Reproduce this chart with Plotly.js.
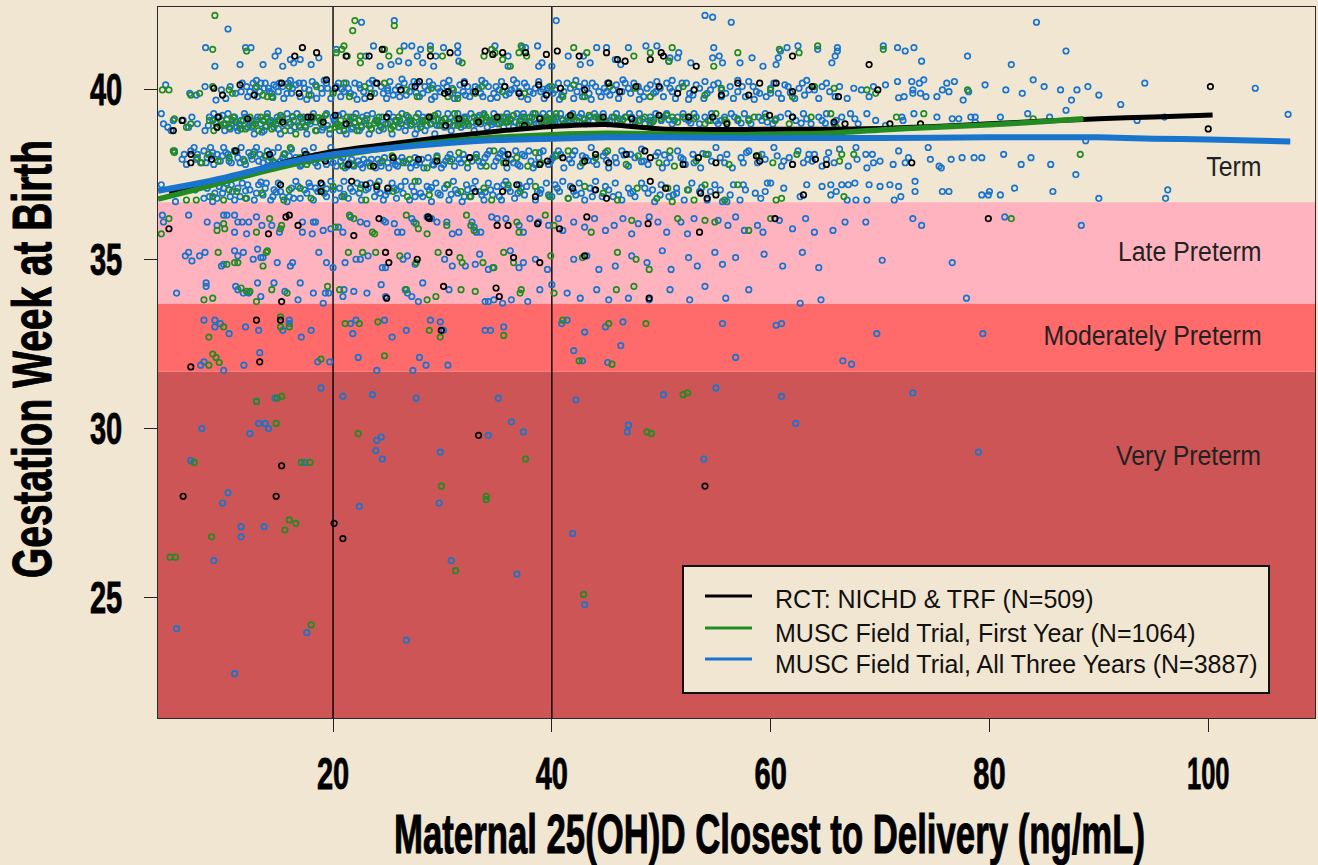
<!DOCTYPE html>
<html><head><meta charset="utf-8"><script src="https://cdn.plot.ly/plotly-3.0.1.min.js"></script>
<style>html,body{margin:0;padding:0;background:#F1E6D2}</style></head><body><div id="chart" style="width:1318px;height:865px"></div>
<script>
const seriesNames=["RCT: NICHD & TRF (N=509)","MUSC Field Trial, First Year (N=1064)","MUSC Field Trial, All Three Years (N=3887)"];
const blackCurveX=[5,8,12,16,20,25,30,35,40,45,50,55,60,65,70,75,80,85,90,95,100.4];
const blackCurveY=[37,37.2,37.55,37.9,38.18,38.4,38.6,38.78,38.92,38.98,38.85,38.83,38.84,38.84,38.86,38.92,39,39.08,39.15,39.2,39.26];
const greenCurveX=[4,7,10,15,20,25,30,35,40,45,50,55,60,65,70,75,80,85,88.6];
const greenCurveY=[36.78,37.02,37.28,37.7,38.04,38.28,38.47,38.6,38.68,38.72,38.7,38.68,38.68,38.72,38.82,38.9,38.97,39.07,39.15];
const blueCurveX=[4,7,10,15,20,25,30,35,40,45,50,60,70,80,90,95,100,107.5];
const blueCurveY=[37.02,37.2,37.4,37.8,38.1,38.28,38.42,38.52,38.56,38.6,38.6,38.58,38.58,38.6,38.6,38.56,38.54,38.48];
const bandBreaks=[21.45,31.68,33.69,36.68];
const bandLabels=["Very Preterm","Moderately Preterm","Late Preterm","Term"];
const bandLabelY=[29.2,32.72,35.22,37.72];
const xTicks=[20,40,60,80,100];
const yTicks=[25,30,35,40];
const refLines=[20,40];
const bluePoints=[
9.2,40.7,10.4,41.8,8.35,41.25,11.5,40.75,12,41.25,12.5,41.25,13.6,40.75,15,41.15,14.7,41,15.4,40.7,16.1,40.9,16.4,40.8,17,40.9,18,40.75,18.7,40.95,20.3,41.2,22.6,42,25.6,42.05,23.7,41.3,23,41,24.3,40.7,25.3,40.75,26,40.85,26.5,41.3,27.2,41.3,28,41.2,27.7,41,26.9,40.8,28.2,40.8,28.9,41.3,30.1,41.25,29.2,40.7,29.4,41,31.4,41.3,31.4,41.1,31.5,40.85,34.8,41.3,36,41,36,40.7,37.3,41.25,37.6,41.25,38.7,41.3,39.1,40.8,38.8,40.7,40.4,42.05,40,40.7,41.5,41,42.9,41,43.5,40.8,42.6,40.75,44.1,41.25,45,41.25,45.8,40.9,46.3,40.75,47,41.25,48.6,41.3,49.6,41.3,50.8,40.95,51.6,41.1,51.5,40.95,50.7,40.85,52.7,40.8,54.8,41.25,55.3,41,54.7,40.95,55.6,40.8,54,42.2,54.7,42.15,56.4,42,57.2,40.8,58.3,40.95,59.3,40.7,60.5,40.75,60.7,40.95,60.9,41.15,61.5,41.25,62.5,41.3,64.3,41.2,66.1,41.25,66.1,41.15,65.9,41,65.6,40.8,70.3,41.3,71.6,41.25,72.3,41.15,73.1,41.25,73.8,40.85,84.3,42,87,41.15,82,40.75,78,41,
4.7,40.15,6.9,39.9,7.5,39.85,8.3,40.1,9.3,39.7,9.8,40,10.2,39.75,10.6,40.1,11.1,39.9,11.7,40.2,12.2,39.8,12.7,40.2,13.1,39.8,13.4,40.2,13.8,40.2,14.1,40.05,14.4,39.9,14.8,40.1,15.1,40.2,15.5,39.75,15.9,40.2,16.2,39.9,16.6,40.15,17,39.8,17.3,40.2,17.8,40,18.1,40.25,18.5,39.75,18.9,40.05,19.4,40.2,19.8,39.75,20.3,40.1,20.7,39.8,21.2,40.2,21.6,39.9,22,40.2,22.5,40.05,22.9,39.75,23.3,40.2,23.8,39.9,24.4,40.1,24.9,39.75,25.2,40.25,25.7,40,26.1,39.8,26.5,40.2,27,39.95,27.4,40.25,27.9,39.8,28.4,40.1,28.8,40.25,29.3,39.8,29.6,40.05,30.1,40.2,30.7,39.9,31.1,39.75,31.6,40.15,32,40.25,32.5,39.8,33,40.1,33.5,39.9,33.9,40.2,34.4,39.75,34.9,40.1,35.4,40.25,35.8,39.85,36.3,40,36.8,40.2,37.2,39.8,37.7,40.1,38.3,39.9,38.8,40.25,39.3,39.75,39.8,40.1,40.3,40,40.9,39.85,41.4,40.2,42,39.75,42.5,40.1,43,40.2,43.4,39.9,44,40.1,44.5,39.8,45.1,40.2,45.6,40,46.1,39.75,46.7,40.2,47.2,39.9,47.9,40.1,48.4,39.8,49,40.15,49.6,40.25,50.2,39.8,50.8,40.05,51.3,39.75,51.9,40.2,52.6,39.9,53.2,40.15,53.9,39.75,54.5,40,55.2,40.2,55.9,39.9,56.6,39.75,57.4,40.1,58,40.25,58.7,39.95,59.6,39.8,60.3,40.2,61,39.75,61.6,40.1,62.2,39.75,62.9,40.2,63.5,40,64.4,39.75,65.1,40.2,65.9,39.8,66.3,40.1,67,39.75,67.6,40.05,68.3,40,69,39.8,69.4,40.1,70.5,40.15,71.6,40.25,71.7,39.77,72.2,39.8,72.9,40.25,73.6,40.2,74,40.3,73,40,73,39.9,73.7,39.9,74.2,39.8,75.2,39.8,75.7,40,76.1,40.2,76.8,40.25,76.3,39.95,77.6,39.7,78.1,39.95,79.6,40.15,81.5,40,83,39.9,84,40.3,85,40.1,86.5,40,88,40,89,40.1,90,39.85,87.5,39.7,94.2,40.2,104.3,40.05,
4.3,39.3,4.5,39,4.9,38.9,5.2,38.8,5.4,39.1,6.3,39.1,6.8,38.9,7.1,39.2,7.6,39,8.3,38.8,8.7,39.2,9.1,39.3,9.4,38.9,9.8,39.1,10.1,38.8,10.4,39.3,10.7,39,11,39.2,11.3,38.8,11.6,39.1,11.9,39.3,12.2,38.9,12.5,39.1,12.8,38.7,13.1,39.2,13.4,39,13.7,38.8,14,39.3,14.3,39.1,14.6,38.9,14.9,39.2,15.2,38.7,15.5,39,15.8,39.3,16.1,38.8,16.4,39.1,16.7,39.3,17,38.9,17.3,39.2,17.6,38.7,17.9,39,18.2,39.3,18.5,38.8,18.8,39.1,19.1,38.9,19.4,39.3,19.7,38.7,20,39.2,20.3,39,20.6,38.8,20.9,39.3,21.2,38.7,21.5,39.1,21.8,38.9,22.1,39.3,22.4,38.8,22.7,39.2,23,39,23.3,38.7,23.6,39.3,23.9,39.1,24.2,38.8,24.5,39.2,24.8,39,25.1,39.3,25.4,38.7,25.7,39.1,26,38.9,26.3,39.3,26.6,38.8,26.9,39.2,27.2,39,27.5,38.7,27.8,39.3,28.1,39.1,28.4,38.8,28.7,39.2,29,39,29.3,38.7,29.6,39.3,29.9,39.1,30.2,38.9,30.5,39.3,30.8,38.8,31.1,39.1,31.4,39.3,31.7,38.9,32,39.2,32.3,39,32.6,39.3,32.9,38.8,33.2,39.2,33.5,39,33.8,39.3,34.1,38.9,34.4,39.1,34.7,39.3,35,39,35.3,39.2,35.6,38.9,35.9,39.3,36.2,39.1,36.5,38.9,36.8,39.3,37.1,39.1,37.4,39.3,37.7,39,38,39.2,38.3,39.3,38.6,39,38.9,39.2,39.2,39.3,39.5,39.1,39.8,39.3,40.1,39,40.4,39.2,40.8,39.3,41.1,39,41.5,39.2,41.9,39.3,42.3,39.1,42.7,39.3,43.1,39,43.5,39.2,43.9,39.3,44.3,39.1,44.7,39.3,45.1,39,45.5,39.2,45.9,39.3,46.3,39,46.7,39.2,47.1,39.3,47.6,39.1,48,39.3,48.5,39,49,39.2,49.5,39.3,50,39.1,50.5,39.3,51,39,51.5,39.2,52,39.3,52.5,39.1,53,39.3,53.5,39,54,39.2,54.6,39.3,55.2,39,55.8,39.2,56.4,39.3,57,39.1,57.6,39.3,58.2,39,58.9,39.2,59.5,39.3,60.2,39,60.9,39.2,61.6,39.3,62.3,39.1,63,39.3,63.7,39,64.4,39.2,65.1,39.3,65.8,39,66.5,39.2,67.3,39.3,68,39,68.8,39.3,69.6,39.1,70.5,38.95,72,39.2,72.1,39.1,73.1,39.3,75.2,39.2,76.6,39.15,77.2,39.15,78.3,39.2,78.7,39.2,78.7,39.05,81,39.2,83.5,39.3,85.5,39.2,87,39.4,92,39.57,93.5,39.1,96,39.2,107.3,39.28,
5.5,38.2,6.2,37.95,6.6,37.8,7.3,38.3,7.6,38.1,7.9,37.85,8.2,38.2,8.5,38,8.8,38.3,9.1,37.8,9.4,38.1,9.7,37.9,10,38.3,10.4,38.1,10.7,37.85,11,38.2,11.3,38,11.6,38.3,12,37.8,12.3,38.15,12.6,37.95,13,38.3,13.3,38.1,13.6,37.85,14,38.2,14.3,38,14.7,37.85,15,38.3,15.4,38,15.8,37.8,16.2,38.25,16.6,38,17,37.75,17.4,38.2,17.8,37.9,18.2,38.3,18.6,37.75,19,38,19.4,37.8,19.8,38.3,20.3,37.75,20.7,37.9,21.1,37.7,21.5,37.85,21.9,37.75,22.3,37.9,22.7,37.7,23.1,37.85,23.5,37.95,23.9,37.7,24.3,37.85,24.7,38,25.1,37.7,25.5,37.9,25.9,37.75,26.3,38,26.7,37.85,27.1,37.7,27.5,38,27.9,37.85,28.3,37.7,28.7,38,29.1,37.8,29.5,38.05,29.9,37.7,30.3,37.9,30.7,38.1,31.1,37.75,31.5,37.95,31.9,38.1,32.3,37.7,32.7,37.9,33.1,38.1,33.5,37.75,33.9,38,34.3,38.2,34.7,37.75,35.1,38,35.5,38.2,35.9,37.7,36.3,37.95,36.7,38.2,37.1,37.75,37.5,38.05,37.9,38.2,38.3,37.7,38.8,38,39.2,38.2,39.7,37.8,40.1,38,40.6,38.2,41.1,37.7,41.6,37.95,42.1,38.2,42.6,37.75,43.1,38,43.6,38.3,44.1,37.8,44.7,38.05,45.2,37.7,45.8,38,46.4,38.2,47,37.75,47.6,38,48.2,38.25,48.8,37.8,49.5,38.05,50.1,37.7,50.8,38,51.5,38.2,52.2,37.8,52.9,38.1,53.6,37.7,54.3,38.1,55,38.3,55.8,37.85,56.5,37.7,57.3,38,58,38.2,58.8,37.85,59.5,37.95,60.3,38.3,61,37.75,61.7,38,62.5,38.2,63,37.85,63.4,37.95,64,38.1,64.7,37.75,65.3,38.15,65.8,37.85,66.3,38.25,67.1,37.75,67.8,38.3,67.9,37.95,68.7,38.1,68.8,37.7,69.3,38.1,69.4,37.85,70,37.9,71.2,37.8,71.7,38.2,72.3,37.85,72.6,38,74.4,38.3,74.6,37.95,75.4,37.75,75.6,37.7,76.5,37.95,77.5,38,78.6,38,79.3,38,81.3,38.1,82.9,37.8,83.8,38,85.6,37.8,87.9,37.5,88.8,38.5,
4.3,37.2,5.6,36.7,7.4,37.05,8.2,36.8,8.7,36.85,9,36.7,9.6,37.15,9.9,36.95,10.3,37.25,10.6,36.85,11,36.75,11.3,37.1,11.7,37.25,12.1,36.8,12.4,37.05,12.8,36.75,13.2,37.2,13.6,36.9,13.9,37.25,14.3,36.75,14.6,37.05,15,37.25,15.4,36.85,15.8,36.7,16.2,37.1,16.6,37.3,17,36.8,17.4,37.05,17.8,37.25,18.2,36.75,18.6,37,19,37.2,19.4,36.85,19.8,37.3,20.2,36.75,20.6,37.1,21,37.3,21.4,36.8,21.8,37,22.2,37.25,22.6,36.75,23,37.05,23.4,37.25,23.8,36.85,24.2,37.3,24.6,36.75,25,37,25.4,37.25,25.8,36.8,26.2,37.15,26.6,37.3,27,36.75,27.4,37,27.8,37.3,28.2,36.85,28.6,37.15,29,36.7,29.4,37.25,29.8,36.9,30.2,37.1,30.6,36.75,31,37.3,31.4,36.95,31.8,36.7,32.2,37.2,32.6,36.85,33,37.3,33.4,37,33.8,36.75,34.2,37.25,34.6,36.9,35,37.15,35.4,36.75,35.8,37.3,36.2,37,36.6,36.8,37,37.2,37.5,36.9,38,37.3,38.5,36.75,39,37.05,39.5,37.25,40,36.85,40.5,37.1,41,37.3,41.5,36.8,42,37,42.5,37.25,43,36.75,43.5,37.1,44,37.3,44.6,36.85,45.2,37.05,45.8,37.25,46.4,36.75,47,37.1,47.6,36.85,48.2,37.25,48.8,36.95,49.4,36.7,50,37.2,50.7,36.85,51.4,37.1,52.1,36.75,52.8,37.25,53.5,37,54.2,36.75,54.9,37.2,55.6,36.7,56,36.7,56.6,37.2,57.2,36.75,57.5,37.2,57.7,37.05,58.6,36.95,59.1,36.8,59.5,37,59.7,37.25,60,37.25,61.2,37.1,62.7,36.85,63.3,37.2,64.7,37.15,65.5,37.2,65.5,36.9,66,37,66.5,37.2,67,36.75,67.1,37.2,67.7,37.25,67.8,36.75,68.8,36.75,69,37.2,70,37.15,70.9,37.2,71.3,36.75,71.7,37.15,71.9,36.85,73.2,37.3,73.2,37,75.7,37,76.3,37,79.3,36.9,80,37,79.9,36.9,81,36.9,82.3,37.1,85.8,37,90,36.8,96.3,37.05,96.1,36.8,
4.4,36.3,4.5,36.1,6.8,36.3,8.5,36.1,9.4,36,10,36.3,10.3,36.3,11,36.3,11.3,36.1,11.7,36.1,12.1,35.75,12.3,36.1,11,35.8,13,36.25,13.5,36,14.4,36,15.1,35.8,17.2,36.1,17.2,35.8,18.2,36.1,18.4,36.1,18.1,35.75,19.1,35.85,19.8,35.9,20.5,35.95,20.9,35.8,21.6,36.25,22.5,36.1,23.1,36.05,24.6,36.15,24.8,36.1,25.6,36.05,25.9,35.8,26.3,35.8,27.2,36.2,27.4,36.1,28.6,36.25,29,36.2,29.5,36.1,30.4,36.1,30.9,35.75,31.5,35.8,32.7,36.1,32.9,35.95,33.1,35.8,33.5,35.8,34.5,36.25,35,36.2,35.8,36.2,37,36,37.4,35.8,38,36.2,38.8,36.1,39.7,36,40.6,36.2,41,35.85,42,36.1,43,35.95,43.9,36.2,44.9,35.85,45.7,36,46.5,36.2,47.3,35.75,47.9,36.05,48.9,36.25,49.7,36.1,50.5,35.8,51.8,36.1,52.4,35.75,53,36.2,55.2,36.15,56.1,36,56.8,36.25,57.6,35.85,58.8,36,59.3,35.8,60.8,36.15,62,35.9,63.2,36.2,64,35.8,65.7,35.85,66.8,36.1,68.7,36.1,73,36.2,73.8,36,81.4,36.25,88.4,36,
6.5,35.1,6.8,35.2,7.1,34.95,7.8,35.1,8.3,35.2,10,34.85,9.8,34.8,11,35.25,11.3,35.1,11.8,35.2,12.7,35,13.1,35.3,13.4,35.05,13.6,35.05,14.9,34.9,16.1,34.8,16.3,34.9,18.7,35.2,19.4,34.9,20,34.75,21.1,34.9,22.1,35,22.5,35,23.2,35.1,24.5,34.75,24.8,34.75,26.4,35,26.8,35.1,27.5,34.85,30.2,35,30.9,34.8,32.1,34.8,33,34.85,33.4,35.15,34.2,34.7,34.6,34.75,36.2,35.25,37,34.75,37.4,34.9,38.5,35,39.6,34.7,42,35,43.2,35.1,44.3,34.7,45.8,34.8,47.3,35.1,48.7,34.9,50.1,35.25,50.9,34.7,52.5,35.05,53.3,34.8,54.9,35.2,55.6,34.85,56.8,35.05,59.4,35.15,61.1,34.8,62.9,35.2,64.4,34.75,70.2,34.97,76.6,34.9,
5.7,34,8.4,34.3,8.4,34.2,11.1,34.2,11.3,34.1,11.8,34,12.3,34,13.1,34.3,13.4,33.9,14.6,34.3,15.6,34.05,16.8,33.8,17,34.3,18.2,34,19.3,34,19.1,33.7,19.6,34,21,34.1,20.9,33.9,21.9,34.05,23.1,34,24.4,34.25,24.8,33.9,26.6,34.1,26.8,34,27.2,33.9,27.8,33.75,28.2,34.3,30.6,34.1,33.9,33.75,34.2,33.75,34.7,33.8,35.5,33.7,36.3,33.8,37.8,33.75,38.9,34.1,40,34.25,41.4,34,42.6,33.85,44.1,34.1,45.2,33.8,47,33.85,48.9,33.8,50.8,34.1,52.6,33.8,54,34.2,55.9,33.85,58,34.1,62.7,33.7,64.6,33.8,77.9,33.85,
8.2,33.2,9.2,33.2,9.7,33.1,9.2,33,10.5,32.8,12,33,13.2,32.9,15.4,32.9,16,33.2,16,33.1,17.1,32.7,18,32.9,21.6,33.1,22.1,33.2,21.8,32.8,24.7,33.2,25.4,32.7,26.7,32.9,28.9,33.2,29.8,33.15,30.1,32.9,33.9,32.9,34.4,32.9,35.6,33,40.9,33.1,41.4,33.2,42,32.3,42.8,32,43,32.85,44.9,33,46.5,33.15,46.3,32.45,45.1,31.95,55.6,33.1,56.8,32.1,60.5,33.05,61,33.1,66.6,32,67.4,31.9,69.7,32.8,79.4,32.8,
8.2,31.97,7.9,31.87,10,31.72,13.3,32.24,11.85,31.87,18.6,31.97,19.7,31.97,22.3,32.1,27.9,32.1,28.5,31.87,30.5,31.87,24,31.72,27.3,31.72,
5.7,24.09,7,29.05,8,30,9.1,26.1,9.9,27.8,10.4,28.1,11,22.76,11.6,27.1,11.6,26.8,12.4,29.85,13,30.8,13.7,27.1,13.2,30.15,13.8,30.15,14.1,30,14.7,30.9,17.4,29,17.6,23.97,18.9,31.2,20.9,30.95,22.4,27.7,23.6,31,24.4,29.75,24,29.65,23.9,29.35,24.5,29.1,26.7,23.75,27.6,30.9,29.8,29.3,29.7,27.8,30.8,26.1,34.2,29.8,35.1,30.9,36.3,30.2,37.4,29.9,36.8,25.7,41.9,26.9,42.2,30.85,43,24.8,47,30.1,46.9,29.9,53.9,29.1,55,31.2,61,30.95,62.3,30.15,73,31.05,79,29.3,50.2,31
];
const blueBandPoints=[
12.1,40.1,12.4,39.95,12.9,40.05,13.3,39.95,13.7,40.05,14.2,39.95,14.6,40.15,15,39.95,15.4,40.1,15.8,39.9,16.3,40.05,16.9,40.2,17.4,40.05,18,39.85,18.4,40.15,19,39.9,19.5,40.05,20,39.9,20.5,40.2,21,39.95,21.4,40.05,21.9,39.85,22.4,40.15,22.8,39.95,23.4,40.05,23.9,40.2,24.6,39.9,25,40.05,25.5,39.85,26,40.1,26.7,39.85,27.2,40.1,27.7,40.2,28.2,39.9,28.7,40,29.1,40.15,29.8,39.95,30.4,40.1,30.9,40.05,31.4,39.85,31.9,39.95,32.3,40.1,32.8,39.95,33.3,40.05,33.7,39.8,34.2,40.1,34.7,39.9,35.2,40,35.7,40.1,36.1,39.9,36.6,40.05,37,39.95,37.5,40.2,38,39.95,38.5,40.05,39,39.95,39.6,40.05,40.1,39.9,40.6,40.2,41.1,39.95,41.7,40.05,42.3,39.95,42.8,39.8,43.2,40.05,43.7,40.2,44.3,39.95,44.8,40.05,45.3,39.85,45.9,40.15,46.4,39.95,47,40.05,47.5,40.2,48.1,39.95,48.7,40.05,49.3,39.9,49.9,40.05,50.5,40.2,51,39.95,51.6,40.05,52.3,40.2,52.9,39.85,53.5,40.05,54.2,39.9,54.8,40.15,55.5,39.8,56.3,40.1,57,39.95,57.7,39.8,58.4,40.1,59,39.9,60,40.05,60.7,39.9,61.3,40.15,62.6,40.05,63.1,39.85,64,40,64.7,40.1,65.4,39.95,
9,39.1,9.6,39.2,10.2,39,10.6,38.85,11.1,39.05,11.5,38.95,12,39.2,12.6,38.9,13,39.1,13.5,38.75,13.9,39.2,14.5,39.05,15,38.85,15.4,39.2,16,39.05,16.5,38.9,17.1,39.15,17.5,38.95,18,39.2,18.4,39.05,19,39.15,19.5,38.95,20.1,39.1,20.5,39.25,21.1,38.95,21.6,39.2,22,39.05,22.6,38.9,23.1,39.25,23.5,38.85,24.1,39.05,24.6,38.85,25.2,39.05,25.6,38.95,26.1,39.1,26.7,38.95,27.1,39.1,27.7,38.85,28.2,39.2,28.6,38.95,29.2,39.1,29.7,38.95,30.3,39.15,31,38.95,31.6,39.1,32.2,39.2,32.8,39.05,33.4,39.25,34,39.1,34.6,39.05,35.4,39.05,36,39.2,36.7,39.05,37.3,39.2,37.9,39.05,38.4,39.15,39.1,39.05,39.7,39.15,40.3,39.05,40.9,39.15,41.7,39.05,42.5,39.2,43.3,39.1,44.2,39.2,45.3,39.1,46.2,39.15,47.3,39.2,48.3,39.15,49.2,39.05,50.2,39.2,51.2,39.1,52.2,39.15,53.2,39.2,54.3,39.1,55.5,39.1,56.7,39.2,58,39.15,59.2,39.1,60.5,39.15,62,39.2,63.3,39.15,64.7,39.1,66,39.1,67.7,39.15,
6.4,38.1,7,38.2,8.4,37.85,9,38.15,9.9,38.05,10.5,37.9,11.2,38.15,11.8,37.95,12.5,38.05,13.2,37.9,13.9,38.05,14.5,38.15,15.2,37.9,16,38.05,16.8,37.9,17.6,38.1,18.4,37.85,19.2,37.95,20,37.85,20.9,38,21.7,37.95,22.5,37.8,23.3,37.85,24.1,37.95,25,37.85,25.7,37.8,26.5,37.9,27.3,37.85,28.1,37.95,29.3,37.9,30.1,37.8,30.9,37.95,31.7,37.85,32.5,38,33.3,37.9,34.1,38.1,34.9,37.9,35.7,38.05,36.5,37.85,37.3,38.1,38.1,37.9,38.9,38.15,39.9,37.9,40.8,38.1,41.8,37.85,42.8,38.05,43.8,37.9,44.9,38.15,45.9,37.85,47.2,38.1,48.4,37.9,49.7,38.15,50.5,37.85,51.8,38,53,37.85,54.6,37.9,56,38.1,57.5,37.85,59.2,38.1,61.2,37.9,63.5,38.1,65.1,37.95,
8.5,37.1,9.2,36.95,10,37.1,10.8,37,11.5,36.85,12.2,37.2,13,36.95,13.8,37.1,14.5,36.85,15.2,37,16,36.85,16.8,37.15,17.6,36.95,18.4,37.1,19.2,36.95,20,37.05,20.8,36.85,21.6,37.1,22.4,36.95,23.2,37.1,24,37.05,24.8,36.9,25.6,37.1,26.4,36.95,27.2,37.15,28,36.95,28.8,37.05,29.6,36.95,30.4,37.2,31.2,37.05,32,36.85,32.8,37.1,33.6,36.9,34.4,37.05,35.2,36.85,36,37.1,36.9,36.95,37.7,37.15,38.7,37,39.7,36.9,40.7,37,41.7,37.15,42.7,36.95,43.7,36.85,44.9,37.15,46.1,36.9,47.4,37,48.5,37.1,49.9,36.9,51.1,36.9,52.5,37.05,54.5,37,56.3,36.9
];
const blueCrowdPoints=[
11.6,39.95,13,40.28,14.5,39.78,16.1,40.28,17.6,39.72,19.2,40.28,20.8,40.02,22.2,39.72,23.6,40.28,25,39.98,26.3,40.32,27.6,39.92,29,39.72,30.6,40.28,32.1,39.85,33.6,40.28,35,39.78,36.5,40.3,37.8,39.72,39.2,40.02,40.7,39.72,42.2,40.28,43.6,39.72,45,39.95,46.5,40.3,48,39.72,49.5,39.95,51,40.28,52.5,39.72,54,40.25,55.5,40,57,40.28,58.5,39.72,60,39.9,61.8,39.92,63.3,40.28,
8.6,38.95,9.9,39.25,11.2,38.9,12.4,39.02,13.8,38.92,15.1,39.12,16.3,39.22,17.7,39.05,19,38.82,20.2,39.12,21.7,38.85,22.9,39.1,24.3,38.95,25.5,39.2,26.8,39.05,28,39,29.5,38.95,30.6,39.05,32,38.95,33.1,39,34.5,38.98,35.7,39.05,37.3,38.98,38.8,39.02,40.2,39.12,41.6,39.12,43,39.12,44.4,39.02,46,39.08,47.4,39.02,49,39.1,50.7,39.12,52.7,39.02,55,39.08,57.3,39.02,59.7,39.05,62.8,39.02,65,39.02,
7.5,37.95,8.9,38.05,10.2,38.15,11.5,37.85,12.8,38.18,14.1,37.92,15.6,38.12,17.1,37.8,18.4,38.05,19.7,37.95,21.3,37.75,22.8,37.95,24.4,37.75,26,37.9,27.6,37.78,29.2,37.78,30.5,38,32,37.95,33.7,37.85,35.3,38.12,36.9,37.8,38.5,37.8,40.3,38.08,41.9,38.08,43.3,37.92,45,37.92,46.6,38.08,48.2,37.88,50.3,38.08,52,37.95,53.8,38.12,55.4,38,57.8,38.15,60.6,38.05,63.8,37.9,
9.4,36.8,10.7,37.2,12,37.02,13.4,37.28,14.8,36.98,16.4,36.8,17.9,37.15,19.4,37.08,21,36.92,22.6,37.2,24.3,36.95,25.8,37.05,27.5,36.85,29,37.12,30.8,36.92,32.3,37.05,33.9,36.98,35.6,37.2,37.2,37.1,38.9,36.95,40.3,37.2,42.2,36.9,43.9,37.05,45.6,36.85,47.2,36.95,49.2,37.05,51.4,36.95,53.7,37.12,55.4,37.05
];
const greenPoints=[
9.2,42.2,9,41.2,12.1,41.15,21.8,41.75,22,42.05,25.6,41.9,20.8,41.2,20.3,41.1,21,41.3,21.3,41,22.5,41,22.5,40.8,24.7,41.2,25.1,41,26.1,41.15,28.9,41.2,30,41,31.8,40.8,33.8,41,34.5,41.2,34.8,41.1,35.5,40.9,36.2,40.7,37.2,41.3,37,41.1,37.7,41,42,41.25,43.2,41.1,47.5,41,49,41.1,51,41.25,50.7,40.85,54.8,40.7,57,41.1,60.8,41.2,62.6,41.1,64.3,41.3,70.3,41.2,
4.4,40,5,40,7,39.85,7.8,39.9,9,40.1,10.5,40,10.8,39.9,13,40.1,13.6,39.85,14,39.8,14.4,39.8,16,40.1,17.8,39.85,18.5,40.1,20,39.9,21,40.2,21.5,39.8,22.9,40.1,23.5,39.9,24.7,40.2,26.7,40,27.7,39.8,29,40.05,30.5,39.8,31,40,31.4,39.75,33,39.9,33.6,40.1,35.5,39.95,37.5,39.9,40,40.1,41,39.8,42,40.15,43,39.8,45.3,40.1,47.6,40.05,49,39.8,52,40.1,54,39.85,55.5,40.05,60,40,62,39.8,64,40.1,65.8,40.05,68.8,40,69.6,39.9,78,40,
5.5,39.15,6.6,38.9,7,39,8.7,39.1,9.1,38.8,9.5,39.2,10,39,10.5,38.9,10.9,39.2,11.4,39,12,38.85,12.4,39.2,12.9,39,13.2,38.8,13.6,39.1,14,39.2,14.4,38.85,14.8,39,15.2,39.25,15.6,38.8,16.1,39,16.6,38.7,17,39.2,17.5,38.9,18,39.1,18.4,38.8,18.9,39,19.3,39.25,19.7,38.85,20.2,38.9,20.7,39.1,21,38.8,21.5,39,21.9,39.2,22.2,38.8,22.6,38.95,23.1,39.15,23.5,38.85,24,39.1,24.4,38.9,24.9,39.2,25.3,38.85,25.8,39.1,26.2,39,26.7,39.25,27.1,38.95,27.6,39.2,28,38.9,28.4,39.1,28.9,39,29.3,39.25,29.8,38.95,30.2,39.15,30.7,39,31.1,39.3,31.6,39,32,39.15,32.4,38.95,32.9,39.2,33.4,39.05,33.8,39.25,34.3,39.05,34.7,39.15,35.2,39,35.6,39.2,36,39.05,36.5,39.25,37,39,37.5,39.2,38,39.05,38.5,39.3,39,39.05,39.5,39.2,40,39.05,40.4,39.3,41,39.1,41.8,39.2,42.5,39.05,43.4,39.25,44.3,39.15,45,39.05,45.7,39.2,46.8,39.2,47.6,39.05,48.5,39.2,49.3,39.1,50.5,39.25,51.5,39.05,52.6,39.2,54,39,55,39.3,56,39.05,58.5,39.2,61.7,39,63.7,39.2,65.5,39.3,66,38.9,71.5,39.2,74,39.3,84,39.15,
9.7,38.95,10.8,39.1,11.8,39.1,12.7,38.95,13.4,39.2,14.2,39.05,15,39.1,16.3,39.2,17.2,39.05,18.2,39.2,19,39.15,20.4,39,21.3,39.2,22.4,39.1,23.3,38.95,24.2,39.2,25,39,26,39.2,27,39.1,28.2,39.05,29,39.2,30,39.05,31.3,39.15,32.2,39.05,33.1,39.1,34,39.2,35,39.15,36.2,39.15,37.2,39.1,38.2,39.2,39.3,39.1,40.2,39.2,41.5,39.05,43,39.15,44.6,39.1,46,39.1,48,39.1,50,39.15,52,39.2,54.5,39.1,57,39.15,59.5,39.2,
9.3,39.02,10.3,39.12,11.6,38.85,13.9,38.92,15.4,39.12,16.9,38.95,18.7,39.18,20.5,38.92,22,39.02,23.8,39.02,25.5,38.92,27.4,39.05,29.6,39.12,31.4,38.95,33.6,39.12,35.8,39.05,37.7,38.95,39.8,39.12,42,39.2,44,39.2,46.5,39.12,49,39.02,51,39.2,53,39.15,55.8,39.12,58,39.1,60.4,39.1,
5.4,38.2,5.5,38.15,7.6,38,8,37.85,8.6,38.1,9.5,37.9,10.5,38,11,38.2,11.9,37.9,12.7,38.1,13.8,38.05,14.5,37.9,15.5,38.1,16.1,38.3,17,38,17.6,37.8,18.5,37.95,20.9,37.75,21.8,37.8,23.4,37.75,24.5,37.9,25.4,38.05,26.4,37.85,27,37.95,28.6,37.7,29.5,38,30.7,37.9,31.5,38.15,32.3,37.85,33.1,38,34,37.75,34.7,38.2,35.6,37.85,36.8,38,37.8,37.75,38.5,38.15,39,37.85,40.4,38.05,41.5,38.2,42.8,37.85,44,38,45.1,38.2,46.8,37.8,47.9,38.05,49.8,37.85,50.8,38.2,51.2,37.75,53.2,37.9,54.1,38.1,56.2,37.8,58.9,38.05,60.2,37.85,62.4,38.1,66.5,38.1,66.3,37.9,67.6,38.1,88.3,38.1,
6.6,36.75,7.5,36.75,9,36.85,10,36.75,10.5,37.05,11.2,37,12,36.8,13.5,36.95,15.5,36.75,16,37.05,17,37.1,18,36.8,19,37,20,37.15,21,36.85,22.5,37.1,23,36.75,24,37.2,25.5,37,26.8,36.85,27.5,37.3,28.8,36.9,30.5,37.2,31.7,37,32.5,36.85,33.8,37.1,34.5,36.75,36,37.2,37.1,37,38.5,37.15,39.8,36.85,41.5,36.8,43,37.15,44.7,36.95,46,36.75,47.8,37.1,49.6,36.8,50.6,37.1,51,36.7,52.4,37.05,53,36.75,54,37.2,55.8,36.75,57,37.2,60.5,36.75,61,36.8,66.7,36.85,
4.3,35.75,5,36.2,10,36.05,10.1,35.9,9.4,35.85,13,35.8,14.2,36.2,15.3,36,15.2,35.9,20.2,35.95,21.5,36.3,21.9,36.2,23.6,35.8,23.8,35.75,26.7,36.3,27.6,36.05,27.8,35.9,28.6,35.75,30.4,36,32.2,36.3,32.6,36,32.9,35.85,36.8,36.1,37,35.8,39.4,36.3,40.2,36,43.6,35.8,47.3,36.15,51.5,36.2,54,36.15,54.9,36.1,58,35.85,60,36.2,82,36.2,
9.5,35.2,10.3,34.85,11,34.9,11.3,34.9,13.6,34.8,14,35.25,13.9,35.2,21.4,35.2,22.7,35.2,23.9,35.2,26.1,35.1,27.6,34.9,29.6,35.2,31.6,35.05,31.8,34.9,33.7,34.9,34.7,34.75,35.6,35.2,36.5,34.9,39.9,35.1,42.8,35.05,46,35.2,47.7,35,48.9,34.7,
8.2,33.8,9,33.85,11.6,34.15,12.1,34.05,12.4,34.05,13,33.75,14.4,34.1,15.8,34,19.5,34.2,20.6,34.1,26.7,34.1,28.6,33.8,29.4,33.9,31.7,34.1,33,34.05,37.1,34,37.2,34.1,40.2,34,45.9,34.1,47.5,34.2,
10,33,8.65,32.7,15.2,33.3,15.2,33,16,33,21.1,33.1,22.4,33.1,24.1,33.15,28.8,32.9,29.8,32.7,35.6,32.75,41,33.2,42.5,32,45.2,33.1,48.6,33.1,45.5,31.9,
9,32.2,9.3,32.1,9.6,31.95,8.65,31.87,18.9,32.05,24.7,32.15,
5.1,26.2,5.6,26.2,7.3,29,8.9,26.8,13,30.8,14.9,30.9,15.3,30.95,14.8,30.15,15.6,27,16,27.3,16.6,27.2,17.1,29,17.9,29,18,24.2,22.3,29.85,29.9,28.3,31.2,25.8,34,28,34,27.9,37.6,29.1,42.9,25.1,48.7,29.9,49.1,29.85,52,31,52.4,31.05
];
const blackPoints=[
17.2,41.25,16.5,41,18.5,41.1,21.2,41,23.3,41,24.5,41.2,28.9,41,30.7,41.1,33.9,41.15,34.6,41.05,35.5,41.1,37.6,41.1,39.5,41.05,40.5,41.15,42.5,41,45,41.1,46,40.9,46.7,40.85,49,40.9,50,41.1,50.2,41,53.2,40.7,62,41,69,40.75,
9.1,40.05,9.9,39.85,11.5,40.15,12.8,39.85,15.3,40.2,16.9,39.9,19.4,40.3,20.2,40.05,23.4,39.8,24,40.2,26.2,40,27.5,40.1,27.9,40.25,30.2,39.9,30.5,39.95,32,40.2,33,39.95,35.7,40.1,37,39.9,38.8,40.15,39.5,39.85,40.8,40.05,43,40,45.2,40.2,46.2,39.95,47.7,40.1,49.8,40.1,51.5,39.9,53,40,55.5,39.85,57,40.2,58,39.85,59,40.2,60.5,40.2,62,39.95,63.8,40.1,66.2,39.8,69.8,40,
6.2,39.1,5.4,38.8,9.4,38.9,9.5,39.2,12.2,39.15,15.4,39.05,17.7,39.2,18,39.2,19.1,39.05,20.2,39.25,21.2,39,24.9,39.2,28.8,39.2,30.3,38.95,31.5,39.15,33.3,39.05,35,39.2,37.5,38.95,38.9,39.15,41.7,39.25,44.7,39.2,47.3,39.15,49.8,39.25,52.5,39.2,54.7,39.2,56,39,59.9,39.25,62,39.2,65.8,39.05,66.8,39,70.9,39,73.7,39,100,38.85,
7,38.1,7,37.85,8.9,37.95,11.1,38.2,14.2,38.1,17.5,38.1,19.3,37.9,21.4,37.8,23.7,37.75,25.5,38,27.8,37.95,29.5,37.9,32.5,38,35.8,37.85,36,38.1,38.9,37.8,39.6,37.9,41,38,43,37.9,44,38.1,45.2,37.85,46.8,38.1,48.5,38.2,49,38,52,37.8,53.4,38,55,37.85,58.7,38.05,59,37.9,62,37.8,64.1,37.95,65.1,37.8,72.9,37.85,
15.2,37.2,18.9,37.25,18.9,37,21.7,37.3,23,37.2,24,37.15,25,37.1,33,37,35.5,37,36.8,37.2,38.5,36.85,41.9,37.1,44,37.05,45,36.8,49,37.3,50.4,37.1,53.6,36.95,54.2,36.8,55,36.9,63,36.9,
5,35.9,14.1,35.75,15.7,36.25,16,36.3,16.8,36,21.9,35.7,24.2,36.2,28.7,36.25,28.8,36.2,35,36,36,36,38.7,36.05,40.7,35.9,43.2,36.25,48.8,36.05,53.5,35.8,60.4,36.2,79.9,36.2,
24.8,35.2,25.1,34.9,27.7,35,30.6,35.2,36.5,35.05,38.9,34.9,43,35.1,
15.3,33.75,24.9,33.85,30.1,34.2,34.9,34.15,35.2,33.9,48.9,33.85,
13,33.2,15.2,33.2,29.9,32.9,13.3,31.97,7,31.82,
6.3,28,15.3,28.9,14.8,28,20.1,27.2,20.9,26.75,33.3,29.8,54,28.3,100.2,40.1
];
const everyOther=(a,o)=>a.filter((_,i)=>i%2===o);
const ptTrace=(pts,color)=>({type:"scatter",mode:"markers",x:everyOther(pts,0),y:everyOther(pts,1),showlegend:false,hoverinfo:"skip",
  marker:{symbol:"circle-open",size:5.5,color:color,line:{color:color,width:1.7}}});
const lineTrace=(x,y,color,name,w)=>({type:"scatter",mode:"lines",x:x,y:y,name:name,line:{color:color,width:w,shape:"spline",smoothing:0.6}});
const BLUE="#1874CD",GREEN="#228B22",BLACK="#000000",BG="#F1E6D2";
const data=[ptTrace(bluePoints.concat(blueBandPoints,blueCrowdPoints),BLUE),ptTrace(greenPoints,GREEN),ptTrace(blackPoints,BLACK),
 lineTrace(blackCurveX,blackCurveY,BLACK,seriesNames[0],5),lineTrace(greenCurveX,greenCurveY,GREEN,seriesNames[1],5.5),lineTrace(blueCurveX,blueCurveY,BLUE,seriesNames[2],6)];
const bandColors=["#CD5555","#FF6A6A","#FFB3BF"];
const shapes=bandColors.map((c,i)=>({type:"rect",layer:"below",xref:"paper",x0:0,x1:1,yref:"y",y0:bandBreaks[i],y1:bandBreaks[i+1],fillcolor:c,line:{width:0}}))
 .concat(refLines.map(v=>({type:"line",layer:"below",xref:"x",x0:v,x1:v,yref:"paper",y0:0,y1:1,line:{color:"#000",width:1.4}})));
const NARROW='"Liberation Sans Narrow","Liberation Sans",sans-serif';
const axis={showgrid:false,zeroline:false,showline:true,mirror:true,linecolor:"#2a2a2a",linewidth:1,ticks:"outside",ticklen:13,tickwidth:1,tickcolor:"#222",
 tickfont:{family:NARROW,size:44,color:"#000",weight:700},automargin:false};
const layout={width:1318,height:865,paper_bgcolor:BG,plot_bgcolor:BG,margin:{l:158,r:3,t:7,b:147},showlegend:true,
 xaxis:Object.assign({},axis,{range:[4,109.76],tickmode:"array",tickvals:xTicks,ticklabelstandoff:4,title:{text:"Maternal 25(OH)D Closest to Delivery (ng/mL)",standoff:28,font:{family:NARROW,size:56,color:"#000",weight:700}}}),
 yaxis:Object.assign({},axis,{range:[21.45,42.45],tickmode:"array",tickvals:yTicks,ticklabelstandoff:13,title:{text:"Gestation Week at Birth",standoff:25,font:{family:NARROW,size:56,color:"#000",weight:700}}}),
 shapes:shapes,
 annotations:bandLabels.map((t,i)=>({text:t,xref:"x",yref:"y",x:105,y:bandLabelY[i],xanchor:"right",yanchor:"middle",showarrow:false,font:{family:NARROW,size:27,color:"#222"}})),
 legend:{x:0.4545,xanchor:"left",y:0.2135,yanchor:"top",bgcolor:BG,bordercolor:"#111",borderwidth:1.5,font:{family:NARROW,size:26,color:"#111"},itemwidth:46,tracegroupgap:0,traceorder:"normal",itemclick:false,itemdoubleclick:false}
};
function squeeze(el,f,abs,sw){const w=el.getComputedTextLength();el.setAttribute("textLength",abs||w*f);el.setAttribute("lengthAdjust","spacingAndGlyphs");if(sw){el.style.stroke="#000";el.style.strokeWidth=sw+"px";}}
Plotly.newPlot("chart",data,layout,{displayModeBar:false,responsive:false}).then(gd=>{
 gd.querySelectorAll(".xtick text,.ytick text").forEach(t=>squeeze(t,t.textContent==="100"?0.58:0.66,0,0.8));
 const xt=gd.querySelector(".xtitle"),yt=gd.querySelector(".ytitle");
 if(xt){squeeze(xt,0,751,1);xt.setAttribute("transform","translate(33,0) "+(xt.getAttribute("transform")||""));}
 if(yt){squeeze(yt,0,438,1);yt.setAttribute("transform","translate(0,-3.5) "+(yt.getAttribute("transform")||""));}
 gd.querySelectorAll(".annotation-text").forEach(t=>{const w=t.getComputedTextLength();squeeze(t,0.92);const dx=w*0.04+0.5;t.setAttribute("transform","translate("+dx+",0) "+(t.getAttribute("transform")||""));});
 const lg=gd.querySelector(".infolayer .legend");
 if(lg){
  lg.setAttribute("transform","translate(683,566)");
  const bg=lg.querySelector("rect.bg");bg.setAttribute("x",0);bg.setAttribute("y",0);bg.setAttribute("width",586);bg.setAttribute("height",127);
  const sb=lg.querySelector(".scrollbox");if(sb){sb.removeAttribute("clip-path");sb.setAttribute("transform","translate(0,0)");}
  const ys=[30,62,93],dt=[2,4,4];
  lg.querySelectorAll("g.traces").forEach((g,i)=>{
   g.setAttribute("transform","translate(0,"+ys[i]+")");
   g.querySelectorAll(".legendlines path").forEach(p=>{p.setAttribute("d","M22,0h47");p.style.strokeWidth="3px";});
   const t=g.querySelector(".legendtext");t.setAttribute("x",92);t.setAttribute("y",+(t.getAttribute("y")||0)+dt[i]);squeeze(t,0.962);
  });
 }
});
</script></body></html>
